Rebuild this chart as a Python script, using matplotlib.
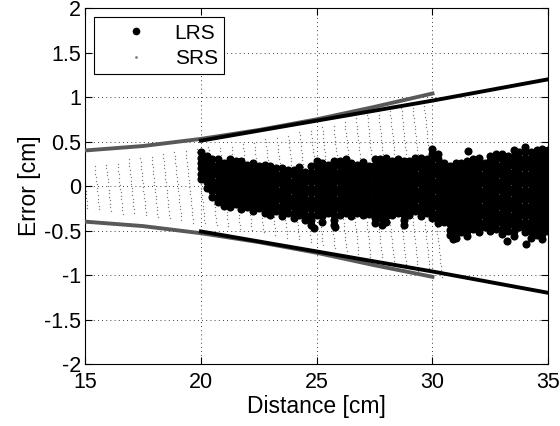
"""
Error vs distance for the long range (LRS) and short range (SRS) sensor
"""
import numpy as np
import matplotlib
matplotlib.use('Agg')
import matplotlib.pyplot as plt
from matplotlib.lines import Line2D

# LRS cloud: column positions and the band each column covers [cm]
lrs_x = [20.0, 20.25, 20.5, 20.75, 21.0, 21.25, 21.5, 21.75, 22.0, 22.25,
         22.5, 22.75, 23.0, 23.25, 23.5, 23.75, 24.0, 24.25, 24.5, 24.75,
         25.0, 25.25, 25.5, 25.75, 26.0, 26.25, 26.5, 26.75, 27.0, 27.25,
         27.5, 27.75, 28.0, 28.25, 28.5, 28.75, 29.0, 29.25, 29.5, 29.75,
         30.0, 30.25, 30.5, 30.75, 31.0, 31.25, 31.5, 31.75, 32.0, 32.25,
         32.5, 32.75, 33.0, 33.25, 33.5, 33.75, 34.0, 34.25, 34.5, 34.75, 35.0]
lrs_hi = [0.42, 0.38, 0.33, 0.31, 0.30, 0.32, 0.30, 0.28, 0.29, 0.27,
          0.25, 0.27, 0.24, 0.23, 0.25, 0.22, 0.21, 0.24, 0.20, 0.25,
          0.28, 0.30, 0.27, 0.29, 0.28, 0.30, 0.27, 0.29, 0.30, 0.28,
          0.31, 0.30, 0.33, 0.31, 0.34, 0.30, 0.33, 0.35, 0.32, 0.35,
          0.42, 0.38, 0.30, 0.26, 0.28, 0.27, 0.30, 0.33, 0.35, 0.31,
          0.36, 0.38, 0.41, 0.37, 0.42, 0.39, 0.45, 0.40, 0.44, 0.47, 0.42]
lrs_lo = [0.08, -0.02, -0.12, -0.18, -0.22, -0.24, -0.20, -0.26, -0.24, -0.28,
          -0.25, -0.30, -0.32, -0.28, -0.34, -0.30, -0.36, -0.33, -0.38, -0.44,
          -0.32, -0.40, -0.30, -0.44, -0.32, -0.30, -0.34, -0.30, -0.33, -0.31,
          -0.42, -0.36, -0.40, -0.32, -0.30, -0.44, -0.32, -0.28, -0.34, -0.30,
          -0.36, -0.42, -0.40, -0.55, -0.58, -0.52, -0.56, -0.48, -0.52, -0.46,
          -0.50, -0.48, -0.54, -0.50, -0.56, -0.46, -0.52, -0.58, -0.55, -0.60, -0.50]
# single LRS points lying outside the band
lrs_out_x = [31.55, 34.05, 24.9, 27.8, 25.8, 33.2, 30.9]
lrs_out_y = [0.39, -0.65, -0.47, -0.44, -0.46, -0.62, -0.60]

# SRS stripes: position where each stripe crosses zero and its extent [cm]
srs_x = [15.0, 15.5, 16.0, 16.5, 17.0, 17.5, 18.0, 18.5, 19.0, 19.5,
         20.0, 20.5, 21.0, 21.5, 22.0, 22.5, 23.0, 23.5, 24.0, 24.5,
         25.0, 25.5, 26.0, 26.5, 27.0, 27.5, 28.0, 28.5, 29.0, 29.5, 30.0]
srs_hi = [0.20, 0.23, 0.25, 0.26, 0.30, 0.31, 0.34, 0.37, 0.38, 0.40,
          0.42, 0.45, 0.46, 0.47, 0.50, 0.51, 0.53, 0.56, 0.58, 0.61,
          0.64, 0.68, 0.70, 0.74, 0.77, 0.81, 0.84, 0.86, 0.90, 0.93, 0.96]
srs_lo = [-0.25, -0.26, -0.28, -0.31, -0.30, -0.33, -0.35, -0.36, -0.38, -0.41,
          -0.42, -0.44, -0.45, -0.48, -0.49, -0.52, -0.55, -0.58, -0.60, -0.63,
          -0.66, -0.70, -0.73, -0.76, -0.80, -0.84, -0.88, -0.92, -0.96, -1.00, -1.02]
srs_slant = 0.4  # stripe drift to the right per cm going down

# error envelopes
srs_env_x = [15.0, 17.5, 20.0, 22.5, 25.0, 27.5, 30.0]
srs_env_hi = [0.40, 0.45, 0.53, 0.63, 0.75, 0.89, 1.04]
srs_env_lo = [-0.40, -0.45, -0.53, -0.63, -0.75, -0.89, -1.02]
lrs_env_x = [20.0, 25.0, 30.0, 35.0]
lrs_env_hi = [0.51, 0.735, 0.96, 1.20]
lrs_env_lo = [-0.51, -0.735, -0.96, -1.20]

plt.rcParams['font.family'] = ['Liberation Sans', 'DejaVu Sans']
plt.rcParams['axes.unicode_minus'] = False

fig = plt.figure(figsize=(5.6, 4.26), dpi=100)
ax = fig.add_axes([0.152, 0.1455, 0.827, 0.8355])

# SRS points along the slanted stripes
sx, sy = [], []
for x0, hi, lo in zip(srs_x, srs_hi, srs_lo):
    ys = np.arange(lo, hi + 0.001, 0.04)
    sx.extend(x0 - srs_slant * ys)
    sy.extend(ys)
ax.scatter(sx, sy, s=1.0, c='0.5', linewidths=0, zorder=2)

# LRS points, column by column
px, py = [], []
for x, hi, lo in zip(lrs_x, lrs_hi, lrs_lo):
    ys = np.arange(lo, hi + 0.001, 0.06)
    px.extend([x] * len(ys))
    py.extend(ys)
px.extend(lrs_out_x)
py.extend(lrs_out_y)
ax.scatter(px, py, s=34, c='k', linewidths=0, zorder=3)

ax.plot(srs_env_x, srs_env_hi, color='0.35', lw=2.8, zorder=4)
ax.plot(srs_env_x, srs_env_lo, color='0.35', lw=2.8, zorder=4)
ax.plot(lrs_env_x, lrs_env_hi, color='k', lw=2.8, zorder=5)
ax.plot(lrs_env_x, lrs_env_lo, color='k', lw=2.8, zorder=5)

ax.set_xlim(15, 35)
ax.set_ylim(-2, 2)
ax.set_xticks([15, 20, 25, 30, 35])
ax.set_yticks([-2, -1.5, -1, -0.5, 0, 0.5, 1, 1.5, 2])
ax.set_yticklabels(['-2', '-1.5', '-1', '-0.5', '0', '0.5', '1', '1.5', '2'])
ax.tick_params(direction='in', length=5, width=0.8, labelsize=15.5,
               top=True, right=True, pad=3)
ax.tick_params(axis='x', pad=6)
ax.grid(True, color='k', linestyle=(0, (1, 4)), linewidth=0.6)
for sp in ax.spines.values():
    sp.set_linewidth(0.8)
ax.set_xlabel('Distance [cm]', fontsize=16.5, labelpad=1)
ax.set_ylabel('Error [cm]', fontsize=16.5, labelpad=2)

handles = [Line2D([], [], ls='none', marker='o', ms=4.5, mfc='k', mec='k'),
           Line2D([], [], ls='none', marker='o', ms=1.0, mfc='0.5', mec='0.5')]
leg = ax.legend(handles, ['LRS', 'SRS'], loc='upper left', fontsize=15,
                fancybox=False, framealpha=1, edgecolor='k',
                handlelength=3.4, handletextpad=0.15, borderpad=0.3,
                labelspacing=0.3, borderaxespad=0.45)
leg.get_frame().set_linewidth(0.8)

plt.savefig('out.png', dpi=100)
